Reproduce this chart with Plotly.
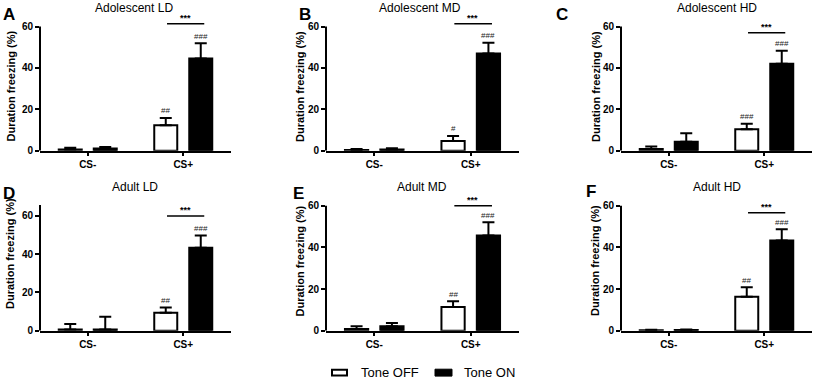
import plotly.graph_objects as go

# ---------------- data ----------------
categories = ["CS-", "CS+"]
panel_titles = ["Adolescent LD", "Adolescent MD", "Adolescent HD",
                "Adult LD", "Adult MD", "Adult HD"]
panel_letters = ["A", "B", "C", "D", "E", "F"]

tone_off_mean = [[0.6, 12.3], [0.3, 4.7], [0.8, 10.3], [0.7, 9.4], [0.9, 11.4], [0.3, 16.3]]
tone_off_sem = [[0.8, 3.5], [0.5, 2.4], [1.2, 2.7], [2.9, 2.7], [1.3, 2.8], [0.2, 4.6]]
tone_on_mean = [[1.0, 44.6], [0.6, 47.0], [4.3, 42.0], [0.7, 43.2], [2.2, 45.7], [0.4, 43.3]]
tone_on_sem = [[0.8, 7.4], [0.6, 5.2], [4.1, 6.3], [6.6, 6.5], [1.6, 6.4], [0.2, 5.4]]

off_hash = ["##", "#", "###", "##", "##", "##"]
on_hash = ["###", "###", "###", "###", "###", "###"]
star_level = [61.4, 61.4, 57.0, 59.8, 60.0, 56.6]

y_ticks = [0, 20, 40, 60]
y_title = "Duration freezing (%)"
legend_labels = ["Tone OFF", "Tone ON"]

# ---------------- layout geometry (pixels) ----------------
W, H = 816, 388
boxes = [(40, 231, 153, 2.10), (326, 519, 153, 2.10), (621, 812, 153, 2.10),
         (40, 231, 336, 1.95), (326, 519, 336, 2.117), (621, 812, 336, 2.117)]
YMAX = 70
axis_top = [60, 60, 60, 65.5, 60, 60]
ytitle_x = [11, 299.5, 595.5, 10, 299.5, 595]
ytitle_y = [31, 31, 31, 40, 33.5, 33.5]
title_pos = [(134, 8), (420, 8), (717, 8), (135, 190), (422, 190), (717, 190)]
letter_pos = [(9, 15), (305, 15), (562, 15), (9, 197), (298, 197), (591, 195)]

BARGAP = 0.267
BARGROUPGAP = 0.343
slot_off = (1 - BARGAP) / 4

FONT = "Arial, 'Liberation Sans', sans-serif"

fig = go.Figure()
annotations = []
shapes = []

for i in range(6):
    sfx = "" if i == 0 else str(i + 1)
    xa, ya = "x" + sfx, "y" + sfx
    x0p, x1p, y0p, ppu = boxes[i]

    fig.add_trace(go.Bar(
        x=categories, y=tone_off_mean[i], name=legend_labels[0],
        marker=dict(color="white", line=dict(color="black", width=2)),
        error_y=dict(type="data", symmetric=False, array=tone_off_sem[i],
                     arrayminus=[0, 0], color="black", thickness=2, width=6),
        xaxis=xa, yaxis=ya, showlegend=False))
    fig.add_trace(go.Bar(
        x=categories, y=tone_on_mean[i], name=legend_labels[1],
        marker=dict(color="black", line=dict(color="black", width=2)),
        error_y=dict(type="data", symmetric=False, array=tone_on_sem[i],
                     arrayminus=[0, 0], color="black", thickness=2, width=6),
        xaxis=xa, yaxis=ya, showlegend=False))

    top_px = y0p - YMAX * ppu
    fig.layout["xaxis" + sfx] = dict(
        domain=[x0p / W, x1p / W], anchor=ya, type="category",
        range=[-0.5, 1.5], showline=True, linewidth=2, linecolor="black",
        ticks="outside", ticklen=3, tickwidth=2, tickcolor="black",
        tickfont=dict(family=FONT, size=10, color="black", weight="bold"),
        showgrid=False, zeroline=False, fixedrange=True)
    fig.layout["yaxis" + sfx] = dict(
        domain=[1 - y0p / H, 1 - top_px / H], anchor=xa,
        range=[0, YMAX], tickvals=y_ticks, showline=False,
        ticks="outside", ticklen=4, tickwidth=2, tickcolor="black",
        tickfont=dict(family=FONT, size=10, color="black", weight="bold"),
        showgrid=False, zeroline=False, fixedrange=True)

    # y axis line (only up to the last tick)
    shapes.append(dict(type="line", xref=xa + " domain", yref=ya,
                       x0=0, x1=0, y0=0, y1=axis_top[i],
                       line=dict(color="black", width=2)))
    # significance bar
    shapes.append(dict(type="line", xref=xa, yref=ya,
                       x0=1 - 0.17, x1=1 + 0.22, y0=star_level[i], y1=star_level[i],
                       line=dict(color="black", width=1.5)))
    annotations.append(dict(xref=xa, yref=ya, x=1.02, y=star_level[i], yshift=6,
                            text="***", showarrow=False, yanchor="middle",
                            font=dict(family=FONT, size=9, color="black", weight="bold")))
    # hash marks
    annotations.append(dict(xref=xa, yref=ya, x=1 - slot_off,
                            y=tone_off_mean[i][1] + tone_off_sem[i][1], yshift=7,
                            text=off_hash[i], showarrow=False, yanchor="middle",
                            font=dict(family=FONT, size=8, color="#222")))
    annotations.append(dict(xref=xa, yref=ya, x=1 + slot_off,
                            y=tone_on_mean[i][1] + tone_on_sem[i][1], yshift=7,
                            text=on_hash[i], showarrow=False, yanchor="middle",
                            font=dict(family=FONT, size=8, color="#222")))
    # titles
    tx, ty = title_pos[i]
    annotations.append(dict(xref="paper", yref="paper", x=tx / W, y=1 - ty / H,
                            text=panel_titles[i], showarrow=False,
                            xanchor="center", yanchor="middle",
                            font=dict(family=FONT, size=12, color="black")))
    lx, ly = letter_pos[i]
    annotations.append(dict(xref="paper", yref="paper", x=lx / W, y=1 - ly / H,
                            text=panel_letters[i], showarrow=False,
                            xanchor="center", yanchor="middle",
                            font=dict(family=FONT, size=17, color="black", weight="bold")))
    annotations.append(dict(xref="paper", yref=ya, x=ytitle_x[i] / W, y=ytitle_y[i],
                            text=y_title, textangle=-90, showarrow=False,
                            xanchor="center", yanchor="middle",
                            font=dict(family=FONT, size=11, color="black", weight="bold")))

# custom legend
shapes.append(dict(type="rect", xref="paper", yref="paper",
                   x0=332 / W, x1=347 / W, y0=1 - 381.5 / H, y1=1 - 375.5 / H,
                   fillcolor="white", line=dict(color="black", width=2)))
shapes.append(dict(type="rect", xref="paper", yref="paper",
                   x0=435 / W, x1=452 / W, y0=1 - 382 / H, y1=1 - 375 / H,
                   fillcolor="black", line=dict(color="black", width=1)))
annotations.append(dict(xref="paper", yref="paper", x=359 / W, y=1 - 378.5 / H,
                        text=legend_labels[0], showarrow=False, xanchor="left",
                        yanchor="middle", font=dict(family=FONT, size=13, color="black")))
annotations.append(dict(xref="paper", yref="paper", x=462 / W, y=1 - 378.5 / H,
                        text=legend_labels[1], showarrow=False, xanchor="left",
                        yanchor="middle", font=dict(family=FONT, size=13, color="black")))

fig.update_layout(
    width=W, height=H, margin=dict(l=0, r=0, t=0, b=0),
    barmode="group", bargap=BARGAP, bargroupgap=BARGROUPGAP,
    plot_bgcolor="white", paper_bgcolor="white",
    showlegend=False, annotations=annotations, shapes=shapes,
    font=dict(family=FONT, color="black"))

fig.write_html("out.html",
               config={"displayModeBar": False},
               post_script="document.body.style.margin='0';document.body.style.overflow='hidden';")
